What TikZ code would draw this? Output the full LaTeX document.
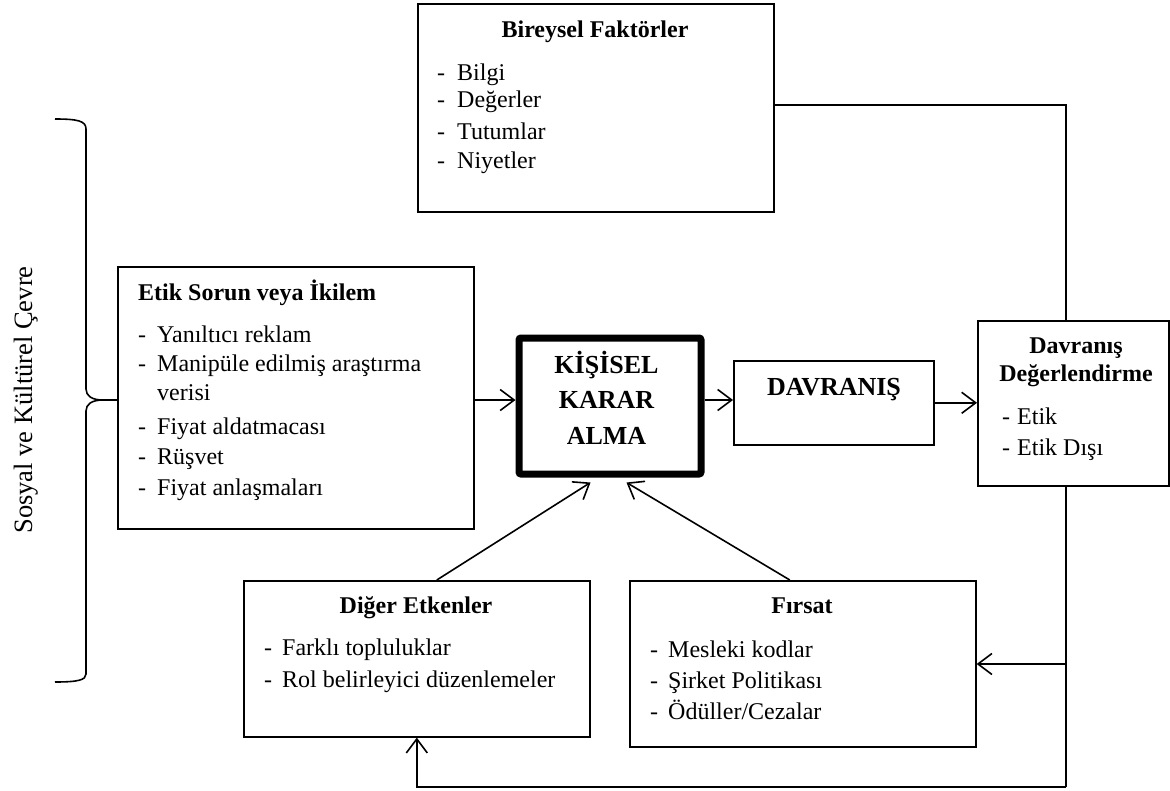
\documentclass[tikz,border=0pt]{standalone}
\usepackage{fontspec}
\setmainfont{Liberation Serif}
\usetikzlibrary{arrows.meta}

\newcommand\itm[1]{\makebox[#1pt][l]{-}}

\begin{document}
\begin{tikzpicture}[x=1pt,y=-1pt,
  frame/.style={draw, line width=1.6pt, inner sep=0pt, anchor=north west},
  heavy/.style={draw, line width=7pt, rounded corners=2pt, inner sep=0pt, anchor=north west},
  ttl/.style={inner sep=0pt, anchor=base, font=\fontsize{24}{28}\selectfont\bfseries},
  big/.style={inner sep=0pt, anchor=base, font=\fontsize{26}{30}\selectfont\bfseries},
  txt/.style={inner sep=0pt, anchor=base west, font=\fontsize{24}{28}\selectfont},
  link/.style={line width=1.6pt},
  flow/.style={line width=1.6pt, -{Straight Barb[length=14pt,width=21pt,line width=1.6pt]}}
]
\useasboundingbox (0,0) rectangle (1170,790);

% --- boxes ---
\node[frame, minimum width=356, minimum height=208] (bf) at (417,3) {};
\node[frame, minimum width=356, minimum height=262] (et) at (117,266) {};
\node[heavy, minimum width=182, minimum height=136] (kk) at (515.5,334.5) {};
\node[frame, minimum width=200, minimum height=84] (dav) at (733,360) {};
\node[frame, minimum width=191, minimum height=165] (dv) at (977,320) {};
\node[frame, minimum width=346, minimum height=156] (dg) at (243,580) {};
\node[frame, minimum width=346, minimum height=166] (fr) at (629,580) {};

% --- Bireysel Faktörler ---
\node[ttl] (bft) at (595,37) {Bireysel Faktörler};
\node[txt] (bf1) at (437,80) {\itm{20}Bilgi};
\node[txt] (bf2) at (437,107) {\itm{20}Değerler};
\node[txt] (bf3) at (437,139) {\itm{20}Tutumlar};
\node[txt] (bf4) at (437,168) {\itm{20}Niyetler};

% --- Etik Sorun veya İkilem ---
\node[ttl, anchor=base west] (ett) at (138,300) {Etik Sorun veya İkilem};
\node[txt] (et1) at (138,342) {\itm{19}Yanıltıcı reklam};
\node[txt] (et2) at (138,371) {\itm{19}Manipüle edilmiş araştırma};
\node[txt] (et2b) at (157,400) {verisi};
\node[txt] (et3) at (138,434) {\itm{19}Fiyat aldatmacası};
\node[txt] (et4) at (138,464) {\itm{19}Rüşvet};
\node[txt] (et5) at (138,495) {\itm{19}Fiyat anlaşmaları};

% --- Kişisel karar alma ---
\node[big] (kk1) at (606.5,373) {KİŞİSEL};
\node[big] (kk2) at (606.5,408) {KARAR};
\node[big] (kk3) at (606.5,444) {ALMA};

% --- Davranış ---
\node[big] (davt) at (834,395) {DAVRANIŞ};

% --- Davranış Değerlendirme ---
\node[ttl] (dvt1) at (1076,353) {Davranış};
\node[ttl] (dvt2) at (1076,381) {Değerlendirme};
\node[txt] (dv1) at (1002,424) {\itm{15}Etik};
\node[txt] (dv2) at (1002,455) {\itm{15}Etik Dışı};

% --- Diğer Etkenler ---
\node[ttl] (dgt) at (416,613) {Diğer Etkenler};
\node[txt] (dg1) at (264,655) {\itm{18}Farklı topluluklar};
\node[txt] (dg2) at (264,687) {\itm{18}Rol belirleyici düzenlemeler};

% --- Fırsat ---
\node[ttl] (frt) at (802,613) {Fırsat};
\node[txt] (fr1) at (650,657) {\itm{18}Mesleki kodlar};
\node[txt] (fr2) at (650,688) {\itm{18}Şirket Politikası};
\node[txt] (fr3) at (650,719) {\itm{18}Ödüller/Cezalar};

% --- environment brace and label ---
\draw[link] (55,119) .. controls (78,119) and (86,121) .. (86,129) -- (86,389)
  .. controls (86,396) and (92,400) .. (103,400) -- (et.west |- 0,400);
\draw[link] (103,400) .. controls (92,400) and (86,404) .. (86,411) -- (86,674)
  .. controls (86,680) and (78,682) .. (55,682);
\node[rotate=90, anchor=base, inner sep=0pt, font=\fontsize{26.5}{30}\selectfont] (env) at (32,400) {Sosyal ve Kültürel Çevre};

% --- connectors ---
\coordinate (row) at (0,400);
\coordinate (top) at (1066,105);
\coordinate (bot) at (1066,787);
\coordinate (side) at (1066,664);

\draw[flow] (et.east |- row) -- (kk.west |- row);
\draw[flow] (kk.east |- row) -- (dav.west |- row);
\draw[flow] (dav.east) -- (dv.west |- dav.east);
\draw[flow] ([xshift=20pt]dg.north) -- ([xshift=-19.5pt,yshift=-5pt]kk.south);
\draw[flow] ([xshift=-13pt]fr.north) -- ([xshift=16.5pt,yshift=-5pt]kk.south);
\draw[link] (bf.east |- top) -- (top) -- (dv.north -| top);
\draw[link] (dv.south -| top) -- (bot);
\draw[flow] (bot) -- (bot -| dg.south) -- (dg.south);
\draw[flow] (side) -- (fr.east |- side);
\end{tikzpicture}
\end{document}
